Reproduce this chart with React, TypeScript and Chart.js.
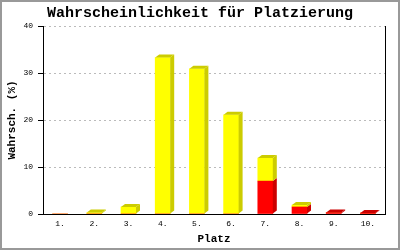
import React, { useEffect, useRef } from "react";
import { Chart, registerables } from "chart.js";

Chart.register(...registerables);

const categories = ["1.", "2.", "3.", "4.", "5.", "6.", "7.", "8.", "9.", "10."];
const redValues = [0, 0, 0, 0, 0, 0, 7.0, 1.5, 0.3, 0.2];
const yellowValues = [0, 0.3, 1.5, 33.3, 30.9, 21.1, 4.9, 0.4, 0, 0];
const yTicks = [0, 10, 20, 30, 40];

const titleText = "Wahrscheinlichkeit für Platzierung";
const yTitle = "Wahrsch. (%)";
const xTitle = "Platz";

const sideColors = ["#cc0000", "#cccc00"];

const bar3d = {
  id: "bar3d",
  afterDatasetsDraw(chart: any) {
    const ctx = chart.ctx;
    const dx = 4;
    const dy = 3;
    const n = chart.data.labels.length;
    for (let i = 0; i < n; i++) {
      let topEl: any = null;
      let topColor = "";
      chart.data.datasets.forEach((ds: any, di: number) => {
        const v = ds.data[i];
        if (!v) return;
        const el = chart.getDatasetMeta(di).data[i];
        const { x, y, base, width } = el.getProps(["x", "y", "base", "width"], true);
        const right = x + width / 2;
        ctx.save();
        ctx.fillStyle = sideColors[di];
        ctx.beginPath();
        ctx.moveTo(right, y);
        ctx.lineTo(right + dx, y - dy);
        ctx.lineTo(right + dx, base - dy);
        ctx.lineTo(right, base);
        ctx.closePath();
        ctx.fill();
        ctx.restore();
        topEl = { x, y, width };
        topColor = sideColors[di];
      });
      if (topEl) {
        const left = topEl.x - topEl.width / 2;
        const right = topEl.x + topEl.width / 2;
        ctx.save();
        ctx.fillStyle = topColor;
        ctx.beginPath();
        ctx.moveTo(left, topEl.y);
        ctx.lineTo(left + dx, topEl.y - dy);
        ctx.lineTo(right + dx, topEl.y - dy);
        ctx.lineTo(right, topEl.y);
        ctx.closePath();
        ctx.fill();
        ctx.restore();
      }
    }
  },
};

const frame = {
  id: "frame",
  beforeDraw(chart: any) {
    const ctx = chart.ctx;
    ctx.save();
    ctx.fillStyle = "#ffffff";
    ctx.fillRect(0, 0, chart.width, chart.height);
    ctx.restore();
  },
  afterDraw(chart: any) {
    const ctx = chart.ctx;
    ctx.save();
    ctx.strokeStyle = "#999999";
    ctx.lineWidth = 2;
    ctx.strokeRect(1, 1, chart.width - 2, chart.height - 2);
    ctx.restore();
  },
};

export default function App() {
  const ref = useRef<HTMLCanvasElement | null>(null);
  useEffect(() => {
    if (!ref.current) return;
    const mono = "'Liberation Mono', 'DejaVu Sans Mono', monospace";
    const chart = new Chart(ref.current, {
      type: "bar",
      data: {
        labels: categories,
        datasets: [
          {
            label: "rot",
            data: redValues,
            backgroundColor: "#ff0000",
            borderWidth: 0,
            barThickness: 15,
          },
          {
            label: "gelb",
            data: yellowValues,
            backgroundColor: "#ffff00",
            borderWidth: 0,
            barThickness: 15,
          },
        ],
      },
      options: {
        animation: false,
        responsive: false,
        devicePixelRatio: 1,
        layout: { padding: 0 },
        plugins: {
          legend: { display: false },
          tooltip: { enabled: false },
          title: {
            display: true,
            text: titleText,
            color: "#000000",
            font: { family: mono, size: 15, weight: "bold" },
            padding: { top: 4, bottom: 4 },
          },
        },
        scales: {
          x: {
            stacked: true,
            grid: { display: false, drawTicks: false },
            border: { display: true, color: "#000000", width: 1 },
            ticks: {
              color: "#000000",
              padding: 5,
              font: { family: mono, size: 8 },
              maxRotation: 0,
            },
            title: {
              display: true,
              text: xTitle,
              color: "#000000",
              font: { family: mono, size: 11, weight: "bold" },
              padding: { top: 0, bottom: 4 },
            },
            afterFit: (s: any) => {
              s.height = 36;
            },
          },
          y: {
            stacked: true,
            min: 0,
            max: 40,
            afterBuildTicks: (s: any) => {
              s.ticks = yTicks.map((v) => ({ value: v }));
            },
            grid: {
              color: (c: any) => (c.tick && c.tick.value === 0 ? "rgba(0,0,0,0)" : "#bbbbbb"),
              lineWidth: 1,
              drawTicks: true,
              tickLength: 5,
              tickColor: "#000000",
              tickBorderDash: [],
            },
            border: { display: true, color: "#000000", width: 1, dash: [2, 3] },
            ticks: {
              color: "#000000",
              padding: 5,
              font: { family: mono, size: 8 },
            },
            title: {
              display: true,
              text: yTitle,
              color: "#000000",
              font: { family: mono, size: 11, weight: "bold" },
              padding: { top: 6, bottom: 0 },
            },
            afterFit: (s: any) => {
              s.width = 43;
            },
          },
          y2: {
            position: "right",
            min: 0,
            max: 40,
            grid: { display: false, drawTicks: false },
            border: { display: true, color: "#000000", width: 1 },
            ticks: { display: false },
            afterFit: (s: any) => {
              s.width = 15;
            },
          },
        },
      },
      plugins: [frame, bar3d],
    } as any);
    return () => chart.destroy();
  }, []);
  return (
    <div style={{ position: "fixed", left: 0, top: 0, width: 400, height: 250 }}>
      <canvas ref={ref} width={400} height={250} />
    </div>
  );
}
